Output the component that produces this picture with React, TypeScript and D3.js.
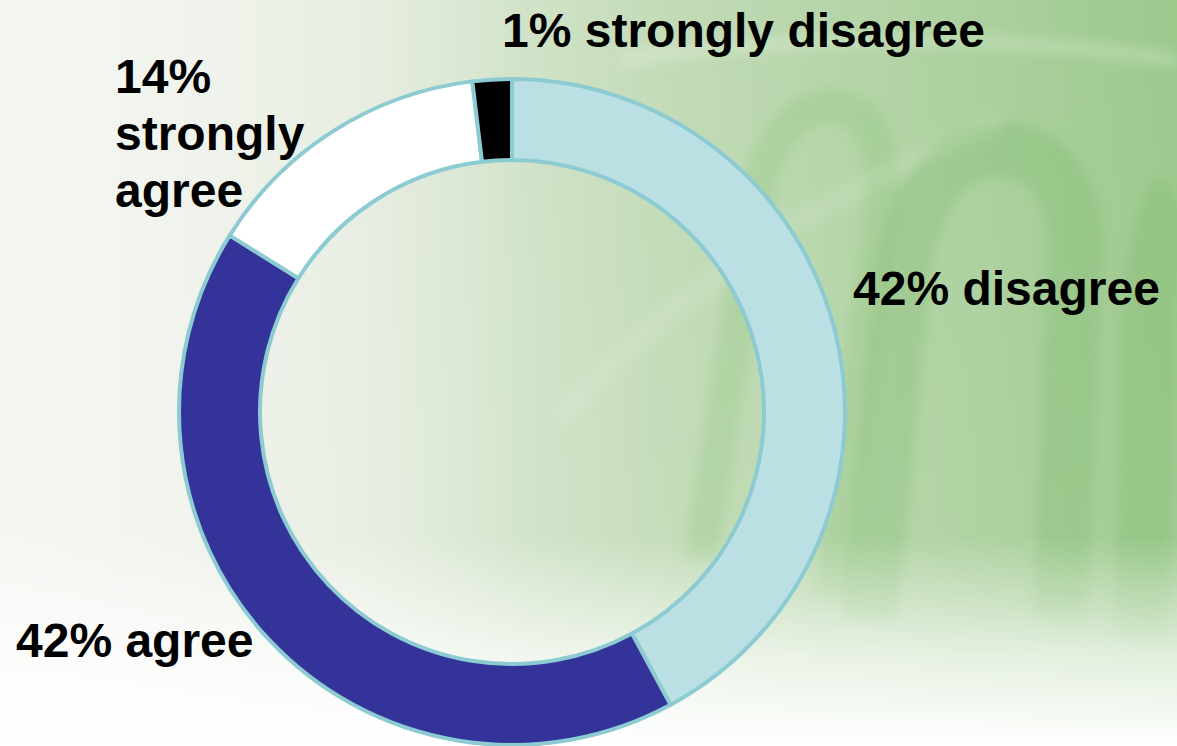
import React from "react";
import * as d3 from "d3";

const categories = ["disagree", "agree", "strongly agree", "strongly disagree"];
const values = [42.1, 41.8, 14.2, 1.9];
const colors = ["#bae0e4", "#333399", "#ffffff", "#000000"];
const labelLines = [
  ["42% disagree"],
  ["42% agree"],
  ["14%", "strongly", "agree"],
  ["1% strongly disagree"],
];
const labelPos = [
  { x: 853, y: 305 },
  { x: 16, y: 657 },
  { x: 115, y: 93 },
  { x: 502, y: 47 },
];

const W = 1177;
const H = 746;

export default function App() {
  const cx = 512;
  const cy = 412;
  const rOuter = 333;
  const rInner = 252;
  const pie = d3
    .pie<number>()
    .sort(null)
    .value((d) => d)
    .startAngle(0)
    .endAngle(2 * Math.PI);
  const arcs = pie(values);
  const arc = d3.arc<d3.PieArcDatum<number>>().innerRadius(rInner).outerRadius(rOuter);

  return (
    <svg
      width={W}
      height={H}
      style={{ position: "fixed", left: 0, top: 0, display: "block" }}
    >
      <defs>
        <linearGradient id="bgH" x1="0" y1="0" x2="1" y2="0">
          <stop offset="0" stopColor="#f1f3ee" />
          <stop offset="0.3" stopColor="#e4ecde" />
          <stop offset="0.55" stopColor="#c4dcb9" />
          <stop offset="1" stopColor="#9dc98d" />
        </linearGradient>
        <linearGradient id="bgV" x1="0" y1="0" x2="0" y2="1">
          <stop offset="0" stopColor="#ffffff" stopOpacity="0" />
          <stop offset="0.72" stopColor="#ffffff" stopOpacity="0.05" />
          <stop offset="0.88" stopColor="#ffffff" stopOpacity="0.7" />
          <stop offset="1" stopColor="#ffffff" stopOpacity="1" />
        </linearGradient>
        <linearGradient id="bgL" x1="0" y1="0" x2="1" y2="0">
          <stop offset="0" stopColor="#f6f7f3" stopOpacity="0.9" />
          <stop offset="0.25" stopColor="#f6f7f3" stopOpacity="0.3" />
          <stop offset="0.45" stopColor="#f6f7f3" stopOpacity="0" />
        </linearGradient>
        <filter id="blur" x="-20%" y="-20%" width="140%" height="140%">
          <feGaussianBlur stdDeviation="6" />
        </filter>
      </defs>
      <rect x={0} y={0} width={W} height={H} fill="url(#bgH)" />
      <g filter="url(#blur)" fill="none" strokeLinecap="butt">
        <path
          d="M 700 560 L 760 180 Q 790 90 850 110 Q 890 130 880 220 L 830 600"
          stroke="#7fbf6c"
          strokeOpacity={0.25}
          strokeWidth={34}
        />
        <path
          d="M 870 620 L 905 260 Q 930 140 1010 150 Q 1080 165 1075 260 L 1060 620"
          stroke="#78b565"
          strokeOpacity={0.3}
          strokeWidth={55}
        />
        <path
          d="M 1140 640 L 1150 300 Q 1160 210 1177 200"
          stroke="#78b565"
          strokeOpacity={0.3}
          strokeWidth={55}
        />
        <path
          d="M 620 60 Q 900 20 1177 60"
          stroke="#ffffff"
          strokeOpacity={0.2}
          strokeWidth={14}
        />
        <path
          d="M 560 420 Q 700 250 1000 120"
          stroke="#ffffff"
          strokeOpacity={0.1}
          strokeWidth={20}
        />
      </g>
      <rect x={0} y={0} width={W} height={H} fill="url(#bgL)" />
      <rect x={0} y={0} width={W} height={H} fill="url(#bgV)" />
      <g transform={`translate(${cx},${cy})`}>
        {arcs.map((a, i) => (
          <path
            key={categories[i]}
            d={arc(a) || ""}
            fill={colors[i]}
            stroke="#8dcbd3"
            strokeWidth={4}
            strokeLinejoin="round"
          />
        ))}
      </g>
      <g
        fontFamily="'Liberation Sans', Arial, sans-serif"
        fontWeight="bold"
        fontSize={48}
        fill="#000"
      >
        {labelLines.map((lines, i) => (
          <text key={categories[i]} x={labelPos[i].x} y={labelPos[i].y}>
            {lines.map((t, j) => (
              <tspan key={j} x={labelPos[i].x} dy={j === 0 ? 0 : 57}>
                {t}
              </tspan>
            ))}
          </text>
        ))}
      </g>
    </svg>
  );
}
